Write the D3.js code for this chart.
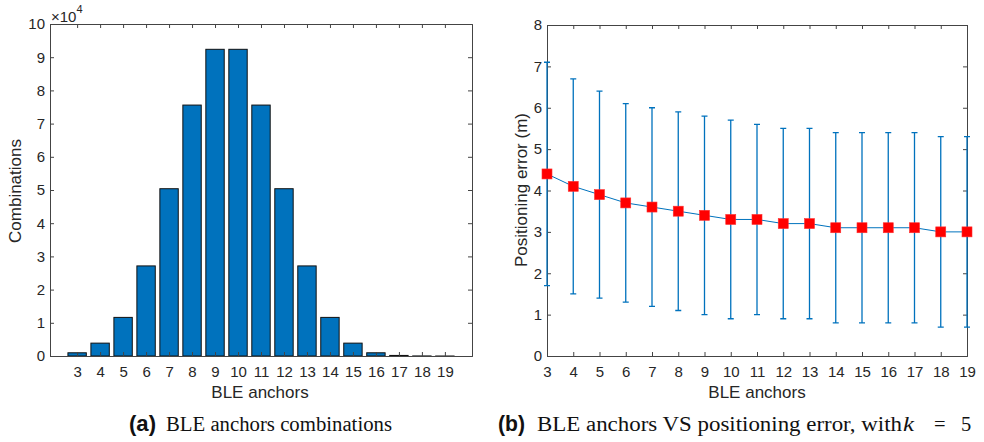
<!DOCTYPE html>
<html>
<head>
<meta charset="utf-8">
<script src="https://cdn.jsdelivr.net/npm/d3@7"></script>
<style>
  body { margin: 0; background: #fff; }
  svg { display: block; }
  .axis text { font-family: "Liberation Sans", Arial, sans-serif; font-size: 15px; fill: #262626; }
  .axis path, .axis line { stroke: #444; }
  .lbl { font-family: "Liberation Sans", Arial, sans-serif; font-size: 17px; fill: #262626; }
  .cap { font-family: "Liberation Serif", "DejaVu Serif", serif; font-size: 20.5px; fill: #111; }
  .capb { font-family: "Liberation Sans", Arial, sans-serif; font-weight: bold; font-size: 22px; }
</style>
</head>
<body>
<div id="fig"></div>
<script>
// Data: (a) number of combinations per anchor count
var anchors = [3, 4, 5, 6, 7, 8, 9, 10, 11, 12, 13, 14, 15, 16, 17, 18, 19];
var combinations = [969, 3876, 11628, 27132, 50388, 75582, 92378, 92378, 75582,
                    50388, 27132, 11628, 3876, 969, 171, 19, 1];
var combTicks = [0, 1, 2, 3, 4, 5, 6, 7, 8, 9, 10];

// Data: (b) positioning error (m), mean with lower / upper bounds
var errMean  = [4.4, 4.1, 3.9, 3.7, 3.6, 3.5, 3.4, 3.3, 3.3, 3.2, 3.2, 3.1, 3.1, 3.1, 3.1, 3.0, 3.0];
var errUpper = [7.1, 6.7, 6.4, 6.1, 6.0, 5.9, 5.8, 5.7, 5.6, 5.5, 5.5, 5.4, 5.4, 5.4, 5.4, 5.3, 5.3];
var errLower = [1.7, 1.5, 1.4, 1.3, 1.2, 1.1, 1.0, 0.9, 1.0, 0.9, 0.9, 0.8, 0.8, 0.8, 0.8, 0.7, 0.7];
var errTicks = [0, 1, 2, 3, 4, 5, 6, 7, 8];

var blue = "#0072BD";
var width = 984, height = 442;

var svg = d3.select("#fig").append("svg")
    .attr("width", width)
    .attr("height", height);

// ---------- (a) bar chart ----------
var ax = { left: 50, right: 472, top: 24, bottom: 356 };

var xA = d3.scaleLinear().domain([1.82, 20.18]).range([ax.left, ax.right]);
var yA = d3.scaleLinear().domain([0, 100000]).range([ax.bottom, ax.top]);
var barW = xA(0.8) - xA(0);

var gA = svg.append("g");

gA.selectAll(".bar")
    .data(anchors)
    .enter()
    .append("rect")
    .attr("class", "bar")
    .attr("x", (d) => xA(d) - barW / 2)
    .attr("y", (d, i) => yA(combinations[i]))
    .attr("width", barW)
    .attr("height", (d, i) => ax.bottom - yA(combinations[i]))
    .style("fill", blue)
    .style("stroke", "#111")
    .style("stroke-width", 1);

// axes, ticks pointing inward like MATLAB
gA.append("g").attr("class", "axis")
    .attr("transform", "translate(0," + ax.bottom + ")")
    .call(d3.axisBottom(xA).tickValues(anchors).tickSize(-4).tickPadding(10).tickFormat(d3.format("d")));
gA.append("g").attr("class", "axis")
    .attr("transform", "translate(0," + ax.top + ")")
    .call(d3.axisTop(xA).tickValues(anchors).tickSize(-4).tickFormat(""));
gA.append("g").attr("class", "axis")
    .attr("transform", "translate(" + ax.left + ",0)")
    .call(d3.axisLeft(yA).tickValues(combTicks.map(d => d * 10000)).tickSize(-4).tickPadding(5)
        .tickFormat(d => d / 10000));
gA.append("g").attr("class", "axis")
    .attr("transform", "translate(" + ax.right + ",0)")
    .call(d3.axisRight(yA).tickValues(combTicks.map(d => d * 10000)).tickSize(-4).tickFormat(""));
gA.selectAll(".axis .domain").attr("stroke", "#555");

// exponent label
var expo = gA.append("text").attr("class", "lbl")
    .attr("x", ax.left + 1).attr("y", ax.top - 2)
    .style("font-size", "15px");
expo.append("tspan").text("\u00d710");
expo.append("tspan").attr("dy", -9).style("font-size", "11px").text("4");

gA.append("text").attr("class", "lbl")
    .attr("transform", "translate(21,191) rotate(-90)")
    .attr("text-anchor", "middle")
    .text("Combinations");
gA.append("text").attr("class", "lbl")
    .attr("x", 260).attr("y", 398)
    .attr("text-anchor", "middle")
    .text("BLE anchors");

// ---------- (b) error bars ----------
var bx = { left: 547, right: 967, top: 25, bottom: 356 };

var xB = d3.scaleLinear().domain([3, 19]).range([bx.left, bx.right]);
var yB = d3.scaleLinear().domain([0, 8]).range([bx.bottom, bx.top]);

var gB = svg.append("g");

gB.append("g").attr("class", "axis")
    .attr("transform", "translate(0," + bx.bottom + ")")
    .call(d3.axisBottom(xB).tickValues(anchors).tickSize(-4).tickPadding(10).tickFormat(d3.format("d")));
gB.append("g").attr("class", "axis")
    .attr("transform", "translate(0," + bx.top + ")")
    .call(d3.axisTop(xB).tickValues(anchors).tickSize(-4).tickFormat(""));
gB.append("g").attr("class", "axis")
    .attr("transform", "translate(" + bx.left + ",0)")
    .call(d3.axisLeft(yB).tickValues(errTicks).tickSize(-4).tickPadding(5));
gB.append("g").attr("class", "axis")
    .attr("transform", "translate(" + bx.right + ",0)")
    .call(d3.axisRight(yB).tickValues(errTicks).tickSize(-4).tickFormat(""));
gB.selectAll(".axis .domain").attr("stroke", "#555");

// vertical error bars
var capW = 3;
gB.selectAll(".ebar")
    .data(anchors)
    .enter()
    .append("path")
    .attr("class", "ebar")
    .attr("d", (d, i) => {
        var x = xB(d), y1 = yB(errUpper[i]), y0 = yB(errLower[i]);
        return "M" + x + "," + y0 + "V" + y1 +
               "M" + (x - capW) + "," + y1 + "H" + (x + capW) +
               "M" + (x - capW) + "," + y0 + "H" + (x + capW);
    })
    .style("fill", "none")
    .style("stroke", blue)
    .style("stroke-width", 1.3);

// mean line
var line = d3.line()
    .x(d => xB(d))
    .y((d, i) => yB(errMean[i]));
gB.append("path")
    .datum(anchors)
    .attr("d", line)
    .style("fill", "none")
    .style("stroke", blue)
    .style("stroke-width", 1);

// square markers
var mk = 10;
gB.selectAll(".mk")
    .data(anchors)
    .enter()
    .append("rect")
    .attr("class", "mk")
    .attr("x", d => xB(d) - mk / 2)
    .attr("y", (d, i) => yB(errMean[i]) - mk / 2)
    .attr("width", mk)
    .attr("height", mk)
    .style("fill", "#ff0000")
    .style("stroke", "#ff3030")
    .style("stroke-width", 0.6);

gB.append("text").attr("class", "lbl")
    .attr("transform", "translate(527,190) rotate(-90)")
    .attr("text-anchor", "middle")
    .text("Positioning error (m)");
gB.append("text").attr("class", "lbl")
    .attr("x", 757).attr("y", 398)
    .attr("text-anchor", "middle")
    .text("BLE anchors");

// ---------- captions ----------
function caption(x, tag, parts) {
    var t = svg.append("text").attr("class", "cap").attr("x", x).attr("y", 431);
    t.append("tspan").attr("class", "capb")
        .attr("textLength", 27).attr("lengthAdjust", "spacingAndGlyphs").text(tag);
    parts.forEach(function (p) {
        var s = t.append("tspan").attr("x", p.x).text(p.text);
        if (p.w) s.attr("textLength", p.w).attr("lengthAdjust", "spacingAndGlyphs");
        if (p.italic) s.style("font-style", "italic");
    });
}
caption(129, "(a)", [{ x: 166, w: 226, text: "BLE anchors combinations" }]);
caption(498, "(b)", [
    { x: 537, w: 365, text: "BLE anchors VS positioning error, with" },
    { x: 903, w: 11, text: "k", italic: true },
    { x: 934, text: "=" },
    { x: 961, text: "5" }
]);
</script>
</body>
</html>
